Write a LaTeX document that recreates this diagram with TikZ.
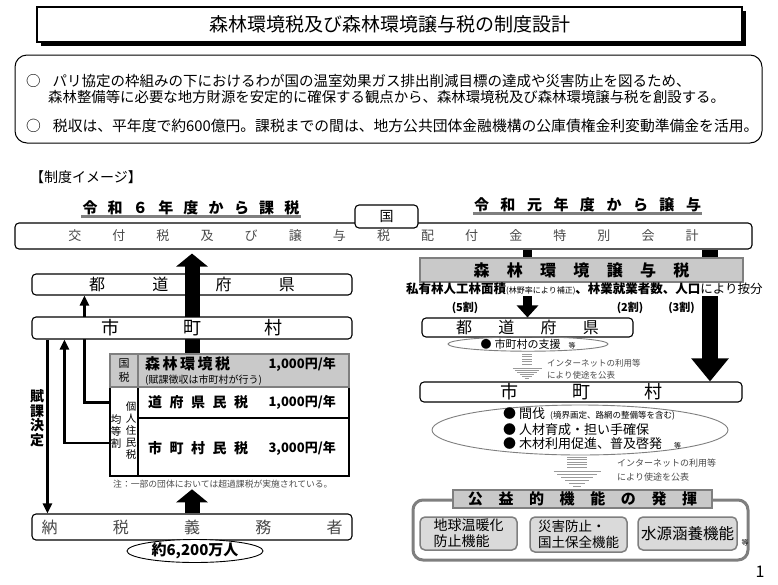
\documentclass[tikz,border=0pt]{standalone}
\usepackage{fontspec}
\setmainfont{Noto Sans CJK JP}
\usetikzlibrary{arrows.meta,calc,shapes.geometric,shadows}

\definecolor{boxgray}{HTML}{C9C9C9}
\definecolor{edgegray}{HTML}{7F7F7F}
\definecolor{palegray}{HTML}{DADADA}
\definecolor{inkgray}{HTML}{4A4A4A}
\definecolor{stripegray}{HTML}{9A9A9A}

\newcommand{\fsz}[1]{\fontsize{#1}{#1}\selectfont}
\newcommand{\spread}[2]{\foreach \ch [count=\idx] in {#2}{\ifnum\idx>1 \hspace{#1}\fi\ch}}
\newcommand{\stripearrow}[5]{% 中心x, 上端y, 軸の半幅, 頭の半幅, 頭の線間隔
  \foreach \k in {0,...,4} \draw[stripe] ({#1-#3},{#2+\k*2.6}) -- ({#1+#3},{#2+\k*2.6});
  \foreach \k in {0,...,5} \draw[stripe] ({#1-#4*(1-\k/6)},{#2+14+\k*#5}) -- ({#1+#4*(1-\k/6)},{#2+14+\k*#5});
}

\begin{document}
\begin{tikzpicture}[x=1pt, y=-1pt,
    txt/.style={inner sep=0pt},
    rbox/.style={draw, fill=white, rounded corners=4pt, line width=1.1pt, inner sep=0pt},
    graybox/.style={draw=edgegray, fill=boxgray, line width=2.5pt, inner sep=0pt},
    cell/.style={draw, line width=1.6pt, inner sep=0pt},
    subbox/.style={draw=edgegray, fill=palegray, rounded corners=5pt, line width=1.5pt, inner sep=0pt},
    heading/.style={inner sep=1pt, font={\bfseries\fsz{15}}},
    uline/.style={edgegray, line width=3pt},
    blockarrow/.style={line width=15pt, -{Triangle[width=31pt,length=13pt]}},
    thinarrow/.style={line width=2.6pt, -{Triangle[width=9pt,length=10pt]}},
    stripe/.style={stripegray, line width=0.9pt},
    oval/.style={ellipse, draw=edgegray, line width=0.9pt, inner sep=0pt}]
    \useasboundingbox (0,0) rectangle (778,584);

    % タイトル
    \node[draw, fill=white, line width=1.2pt, minimum width=705, minimum height=35,
        drop shadow={shadow xshift=4pt, shadow yshift=-4pt, fill=black, opacity=1},
        font=\fsz{19}] (title) at (389.5,24.5) {森林環境税及び森林環境譲与税の制度設計};

    % 概要
    \node[draw, rounded corners=12pt, line width=1pt, minimum width=747, minimum height=88, inner sep=0pt] (intro) at (388.5,99) {};
    \node[txt, anchor=west, font=\fsz{14.5}] (line1) at (26,81) {○\hspace{12pt}パリ協定の枠組みの下におけるわが国の温室効果ガス排出削減目標の達成や災害防止を図るため、};
    \node[txt, anchor=west, font=\fsz{14.4}] (line2) at (48,97) {森林整備等に必要な地方財源を安定的に確保する観点から、森林環境税及び森林環境譲与税を創設する。};
    \node[txt, anchor=west, font=\fsz{14.8}] (line3) at (26,126) {○\hspace{12pt}税収は、平年度で約600億円。課税までの間は、地方公共団体金融機構の公庫債権金利変動準備金を活用。};
    \node[txt, anchor=west, font=\fsz{14}] (image) at (30,177) {【制度イメージ】};

    % 見出し
    \node[heading] (kazei) at (191,208) {\spread{10.25pt}{令,和,６,年,度,か,ら,課,税}};
    \draw[uline] (kazei.south west) -- (kazei.south east);
    \node[heading] (joyohead) at (587.5,205) {\spread{11.5pt}{令,和,元,年,度,か,ら,譲,与}};
    \draw[uline] (joyohead.south west) -- (joyohead.south east);

    % 国の特別会計
    \node[rbox, minimum width=737, minimum height=26, font=\fsz{13}, text=inkgray] (kofu) at (383.5,236) {\spread{31.1pt}{交,付,税,及,び,譲,与,税,配,付,金,特,別,会,計}};
    \node[rbox, minimum width=63, minimum height=23, font=\fsz{14}] (kuni) at (386.5,216.5) {国};

    % 課税側：都道府県と税の表
    \node[rbox, minimum width=320, minimum height=21, font=\fsz{16}] (todo) at (192,284.5) {\spread{47.3pt}{都,道,府,県}};
    \node[cell, minimum width=28, minimum height=89] (kojin) at (124,431.5) {};
    \node[cell, minimum width=211, minimum height=31] (kenmin) at (243.5,402.5) {};
    \node[cell, minimum width=211, minimum height=58] (simin) at (243.5,447) {};
    \node[graybox, minimum width=28, minimum height=33, align=center, font={\fontsize{11}{14}\selectfont}] (kzl) at (124,370.5) {国\\税};
    \node[graybox, minimum width=211, minimum height=33] (kzm) at (243.5,370.5) {};
    \node[txt, anchor=west, font={\bfseries\fsz{15}}] (shinrin) at (145,364) {\spread{2.5pt}{森,林,環,境,税}};
    \node[txt, anchor=east, font={\bfseries\fsz{13}}] (zei1) at (336,364) {1,000円/年};
    \node[txt, anchor=west, font=\fsz{10}] (chosyu) at (145,380) {(賦課徴収は市町村が行う)};
    \node[txt, align=center, font={\fontsize{10.5}{12}\selectfont}] (kinto) at (116,431) {均\\等\\割};
    \node[txt, align=center, font={\fontsize{10.5}{12}\selectfont}] (jumin) at (131,431) {個\\人\\住\\民\\税};
    \node[txt, anchor=west, font={\bfseries\fsz{14}}] (kenmei) at (148,402) {\spread{7.5pt}{道,府,県,民,税}};
    \node[txt, anchor=east, font={\bfseries\fsz{13}}] (zei2) at (336,402) {1,000円/年};
    \node[txt, anchor=west, font={\bfseries\fsz{14}}] (simei) at (148,448) {\spread{7.5pt}{市,町,村,民,税}};
    \node[txt, anchor=east, font={\bfseries\fsz{13}}] (zei3) at (336,448) {3,000円/年};
    \node[anchor=west, inner sep=1pt, font=\fsz{8.8}, text=inkgray] (note) at (112,484) {注：一部の団体においては超過課税が実施されている。};

    % 納税義務者
    \node[rbox, minimum width=320, minimum height=26, font=\fsz{16}, text=inkgray] (nozei) at (192,527) {\spread{55.25pt}{納,税,義,務,者}};
    \node[oval, draw=black, fill=white, minimum width=136, minimum height=20, font={\bfseries\fsz{15}}] (ninzu) at (195,551) {約6,200万人};

    % 税の流れ（市町村の枠の下を通る）
    \draw[blockarrow, shorten >=4pt] (todo.center |- kzm.north) -- (todo.center |- kofu.south);
    \draw[blockarrow] (nozei.north) -- (nozei.north |- note.south);
    \draw[thinarrow] (kojin.west |- kenmin.center) -| ($(todo.south west)+(53,0)$);

    % 市町村
    \node[rbox, minimum width=320, minimum height=22, font=\fsz{18}] (shi) at (192,328) {\spread{63.5pt}{市,町,村}};
    \draw[thinarrow] ($(simin.west -| kojin.west)+(0,-4)$) -| ($(shi.south west)+(33,0)$);
    \draw[thinarrow] ($(shi.south west)+(16,0)$) -- ($(nozei.north west)+(16,0)$);
    \node[txt, align=center, font={\bfseries\fontsize{14}{14.5}\selectfont}] (fuka) at (37,418) {賦\\課\\決\\定};

    % 譲与側
    \node[graybox, minimum width=323, minimum height=24, font={\bfseries\fsz{16}}] (joyo) at (581.5,270) {\spread{17.3pt}{森,林,環,境,譲,与,税}};
    \coordinate (xa) at (527.5,0);
    \coordinate (xb) at (710,0);
    \draw[line width=9pt] (xa |- kofu.south) -- (xa |- joyo.north);
    \draw[line width=16pt] (xb |- kofu.south) -- (xb |- joyo.north);
    \node[txt, anchor=west, inner sep=1pt] (anbun) at (405,289) {\bfseries\fsz{12.5}私有林人工林面積{\mdseries\fsz{8}(林野率により補正)}、林業就業者数、人口{\mdseries により按分}};
    \node[txt, font={\bfseries\fsz{11}}] (wari5) at (465,308) {(5割)};
    \node[txt, font={\bfseries\fsz{11}}] (wari2) at (630,308) {(2割)};
    \node[txt, font={\bfseries\fsz{11}}] (wari3) at (681.5,308) {(3割)};

    \node[rbox, minimum width=211, minimum height=19, font=\fsz{16}] (rtodo) at (527.5,327.5) {\spread{26.3pt}{都,道,府,県}};
    \draw[line width=9pt, -{Triangle[width=21pt,length=12pt]}] (xa |- anbun.south) -- (xa |- rtodo.north);
    \node[oval, minimum width=160, minimum height=14, font=\fsz{11}] (shien) at (528,344) {●\hspace{3pt}市町村の支援\hspace{8pt}{\fsz{7}等}};
    \stripearrow{527}{354}{5}{14.5}{2}
    \node[txt, anchor=west, font=\fsz{8.5}, text=inkgray] (net1) at (547,363) {インターネットの利用等};
    \node[txt, anchor=west, font=\fsz{8.5}, text=inkgray] (koho1) at (547,375) {により使途を公表};

    \node[rbox, minimum width=322, minimum height=20, font=\fsz{18}] (rshi) at (581,392) {\spread{54pt}{市,町,村}};
    \draw[line width=16pt, -{Triangle[width=36pt,length=23pt]}] (xb |- anbun.south) -- (xb |- rshi.north);

    % 市町村の使途
    \node[oval, minimum width=296, minimum height=50] (katsudo) at (580,430) {};
    \node[txt, anchor=west, font=\fsz{13}] (kanbatsu) at (503,414) {●\hspace{3pt}間伐\hspace{5pt}{\fsz{8.5}(境界画定、路網の整備等を含む)}};
    \node[txt, anchor=west, font=\fsz{13}] (jinzai) at (503,430) {●\hspace{3pt}人材育成・担い手確保};
    \node[txt, anchor=west, font=\fsz{13}] (mokuzai) at (503,444) {●\hspace{3pt}木材利用促進、普及啓発\hspace{12pt}{\fsz{7}等}};
    \stripearrow{577}{457}{10}{23.5}{3}
    \node[txt, anchor=west, font=\fsz{9}, text=inkgray] (net2) at (617,463) {インターネットの利用等};
    \node[txt, anchor=west, font=\fsz{9}, text=inkgray] (koho2) at (617,477) {により使途を公表};

    % 公益的機能の発揮
    \node[draw=edgegray, line width=3pt, rounded corners=10pt, minimum width=335, minimum height=60, inner sep=0pt] (koeki) at (580.5,530) {};
    \node[graybox, line width=2pt, minimum width=259, minimum height=18, font={\bfseries\fsz{15}}] (hakki) at (582.5,499) {\spread{15.6pt}{公,益,的,機,能,の,発,揮}};
    \node[subbox, minimum width=97, minimum height=33, align=left, font={\fontsize{14}{16}\selectfont}] (ondanka) at (468.5,533.5) {地球温暖化\\防止機能};
    \node[subbox, minimum width=97, minimum height=35, align=left, font={\fontsize{13.5}{16}\selectfont}] (saigai) at (578.5,534.5) {災害防止・\\国土保全機能};
    \node[subbox, minimum width=99, minimum height=33, font=\fsz{15.5}] (suigen) at (687.5,533.5) {水源涵養機能};
    \node[txt, font=\fsz{7}] (etc) at (745,543) {等};
    \node[txt, font=\fsz{16}] (page) at (760,572) {1};
\end{tikzpicture}
\end{document}
